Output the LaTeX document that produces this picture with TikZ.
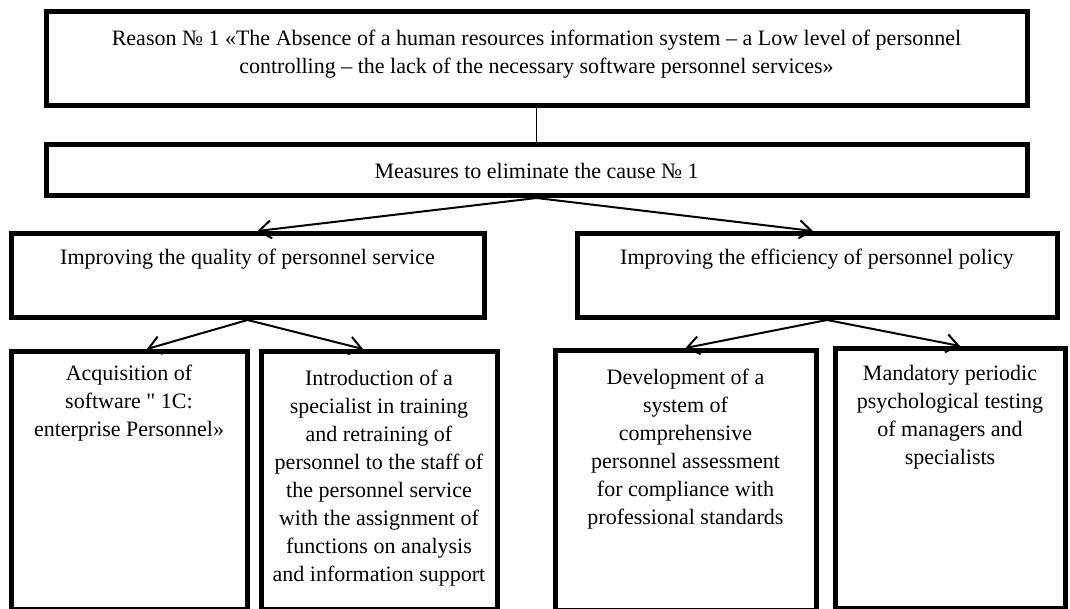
\documentclass[tikz,border=0pt]{standalone}
\usepackage{fontspec}
\setmainfont{Liberation Serif}[Ligatures=TeXOff]
\usetikzlibrary{arrows.meta}
\tikzset{block/.style={draw,line width=2.5pt,inner sep=0pt,anchor=north,align=center,
        font=\fontsize{11}{14}\selectfont},
    link/.style={line width=1pt,-{Straight Barb[length=6pt,width=9pt]}}
}

\begin{document}
\begin{tikzpicture}[x=0.5pt,y=-0.5pt]
    \useasboundingbox (0,0) rectangle (1070,609);

    % Reason
    \node[block,minimum width=490.5pt,text height=31pt,text depth=16pt] (reason) at (536.5,9)
        {Reason № 1 «The Absence of a human resources information system – a Low level of personnel\\
        controlling – the lack of the necessary software personnel services»};

    % Measures
    \node[block,minimum width=490.5pt,text height=17pt,text depth=8.5pt] (measures) at (536.5,142)
        {Measures to eliminate the cause № 1};
    \draw[line width=0.6pt] (reason) -- (measures);

    % Directions
    \node[block,minimum width=236.5pt,text height=15.5pt,text depth=26.5pt] (quality) at (247.5,231)
        {Improving the quality of personnel service};
    \node[block,minimum width=240pt,text height=15.5pt,text depth=26.5pt] (policy) at (817,231)
        {Improving the efficiency of personnel policy};
    \draw[link] (measures.south) -- ([xshift=5pt]quality.north);
    \draw[link] (measures.south) -- ([xshift=-2pt]policy.north);

    % Actions of the personnel service
    \node[block,minimum width=118pt,text height=42.5pt,text depth=86.5pt] (software) at (129,349)
        {Acquisition of\\software " 1C:\\enterprise Personnel»};
    \node[block,minimum width=118pt,text height=115pt,text depth=14pt] (specialist) at (379,349)
        {Introduction of a\\specialist in training\\and retraining of\\personnel to the staff of\\the personnel service\\with the assignment of\\functions on analysis\\and information support};
    \draw[link] (quality.south) -- ([xshift=9pt]software.north);
    \draw[link] (quality.south) -- ([xshift=-8pt]specialist.north);

    % Actions of the personnel policy
    \node[block,minimum width=130.5pt,text height=87pt,text depth=43pt] (assessment) at (685.5,348)
        {Development of a\\system of\\comprehensive\\personnel assessment\\for compliance with\\professional standards};
    \node[block,minimum width=115pt,text height=58pt,text depth=72pt] (testing) at (950,346)
        {Mandatory periodic\\psychological testing\\of managers and\\specialists};
    \draw[link] ([xshift=5pt]policy.south) -- (assessment.north);
    \draw[link] ([xshift=5pt]policy.south) -- ([xshift=5pt]testing.north);
\end{tikzpicture}
\end{document}
